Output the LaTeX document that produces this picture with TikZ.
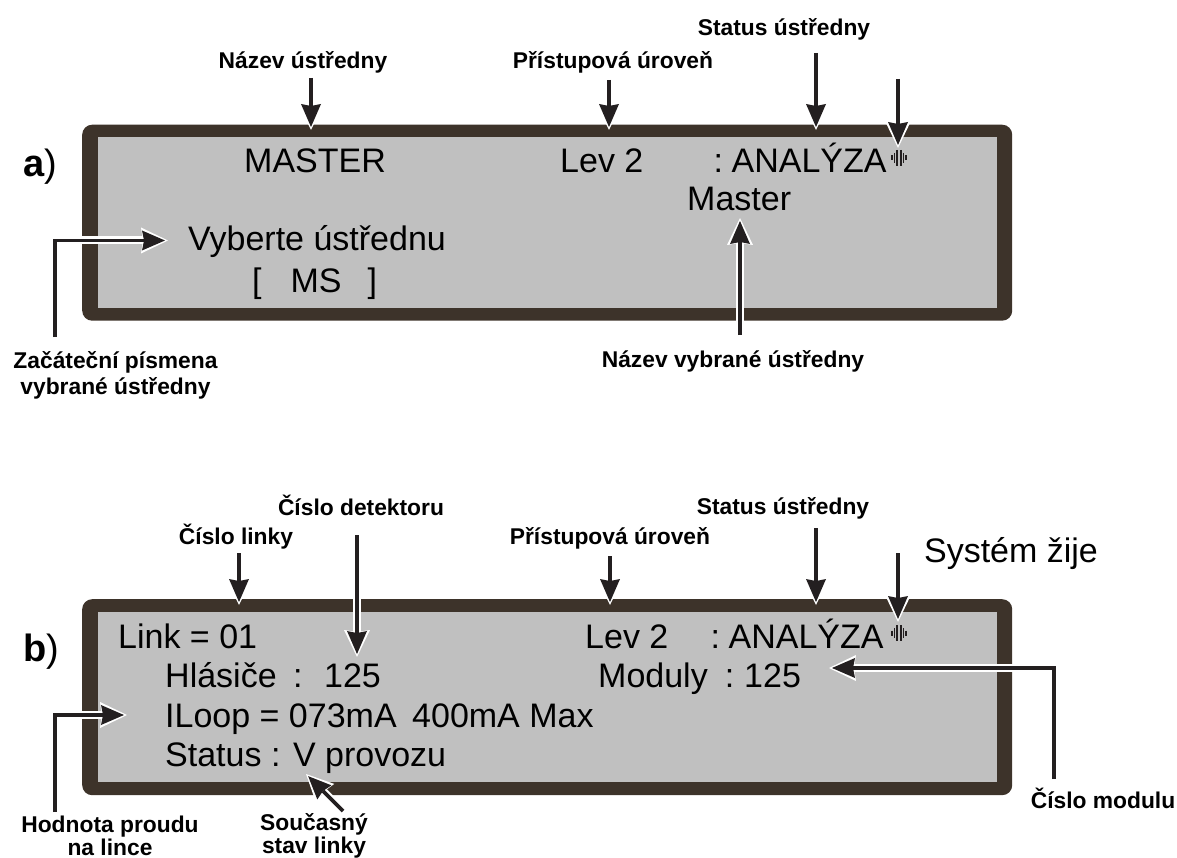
\documentclass[tikz,border=0pt]{standalone}
\usepackage{fontspec}
\setmainfont{Liberation Sans}
\usetikzlibrary{arrows.meta}
\definecolor{framecol}{HTML}{3D332A}
\definecolor{screencol}{HTML}{C0C0C0}
\definecolor{arrowcol}{HTML}{231F20}
\tikzset{
  x=1pt,y=-1pt,
  frame/.style={fill=framecol,draw=none,rounded corners=10pt,anchor=north west,inner sep=0pt,minimum width=930pt},
  screen/.style={fill=screencol,draw=none,anchor=north west,inner sep=0pt,minimum width=899pt},
  lcd/.style={font=\fontsize{34}{34}\selectfont,anchor=base west,inner sep=0pt,text=black},
  tag/.style={font=\fontsize{22.8}{25}\selectfont\bfseries,align=center,inner sep=0pt,text=black},
  letter/.style={font=\fontsize{38}{38}\selectfont,anchor=base west,inner sep=0pt},
  callout/.style={draw=arrowcol,line width=3.6pt,line cap=butt,shorten >=3pt,
    -{Stealth[length=23pt,width=20pt,inset=2pt,line width=0pt,arrowcol]},
    preaction={draw=white,line width=8pt,shorten >=0pt,
      -{Stealth[length=27pt,width=26pt,inset=2pt,line width=0pt,white]}}},
  beat/.style={draw=arrowcol,line cap=butt},
}
\newcommand{\beaticon}[2]{%
  \draw[beat,line width=1.6pt] (#1-7,#2-2.5) -- (#1-7,#2+2.5);
  \draw[beat,line width=1.8pt] (#1-4.5,#2-5) -- (#1-4.5,#2+5);
  \draw[beat,line width=2pt] (#1-1.6,#2-8) -- (#1-1.6,#2+8);
  \draw[beat,line width=2pt] (#1+1.6,#2-8) -- (#1+1.6,#2+8);
  \draw[beat,line width=1.8pt] (#1+4.5,#2-5) -- (#1+4.5,#2+5);
  \draw[beat,line width=1.6pt] (#1+7,#2-2.5) -- (#1+7,#2+2.5);
}
\begin{document}
\begin{tikzpicture}
\useasboundingbox (0,0) rectangle (1177,858);
% panels
\node[frame,minimum height=196pt] (frameA) at (82,124.5) {};
\node[screen,minimum height=171pt] (screenA) at (98,137) {};
\node[frame,minimum height=196pt] (frameB) at (82,599) {};
\node[screen,minimum height=170pt] (screenB) at (98,612) {};
% side letters
\node[letter] (letA) at (23,177) {\textbf{a})};
\node[letter] (letB) at (23,661) {\textbf{b})};
% panel a text
\node[lcd] (tMaster) at (244,173) {MASTER};
\node[lcd] (tLevA) at (560,173) {Lev 2};
\node[lcd] (tAnaA) at (713.5,173) {:\hspace{8.5pt}ANALÝZA};
\node[lcd] (tSel) at (687,211) {Master};
\node[lcd] (tVyb) at (188,251) {Vyberte ústřednu};
\node[lcd] (tMS) at (252,293) {[\hspace{29pt}MS\hspace{26pt}]};
\beaticon{899}{158}
% panel b text
\node[lcd] (tLink) at (118,648) {Link = 01};
\node[lcd] (tLevB) at (585,648) {Lev 2};
\node[lcd] (tAnaB) at (710.5,648) {:\hspace{8.5pt}ANALÝZA};
\node[lcd] (tHl) at (165,687) {Hlásiče\hspace{7pt} :\hspace{9pt} 125};
\node[lcd] (tMod) at (598,687) {Moduly\hspace{17pt}:\hspace{10pt}125};
\node[lcd] (tLoop) at (165,727) {ILoop = 073mA};
\node[lcd] (tMax) at (412,727) {400mA Max};
\node[lcd] (tStat) at (165,766) {Status : V provozu};
\beaticon{899}{633}
% tags a
\node[tag] (nA1) at (303,62) {Název ústředny};
\node[tag] (nA2) at (613,62) {Přístupová úroveň};
\node[tag] (nA3) at (784,29) {Status ústředny};
\node[tag] (nA4) at (115.5,375) {Začáteční písmena\\[1pt]vybrané ústředny};
\node[tag] (nA5) at (733,361) {Název vybrané ústředny};
% tags b
\node[tag] (nB1) at (236,537) {Číslo linky};
\node[tag] (nB2) at (361,505) {Číslo detektoru};
\node[tag] (nB3) at (610,538) {Přístupová úroveň};
\node[tag] (nB4) at (783,508) {Status ústředny};
\node[font=\fontsize{34}{34}\selectfont,inner sep=0pt] (nB5) at (1011,554) {Systém žije};
\node[tag] (nB6) at (110,836) {Hodnota proudu\\[-2pt]na lince};
\node[tag] (nB7) at (314,836) {Současný\\[-2pt]stav linky};
\node[tag] (nB8) at (1103,798) {Číslo modulu};
% connector ends
\coordinate (a1s) at (311,78); \coordinate (a1e) at (311,130);
\coordinate (a2s) at (609,80); \coordinate (a2e) at (609,130);
\coordinate (a3s) at (816,53); \coordinate (a3e) at (816,130);
\coordinate (a4s) at (898,79); \coordinate (a4e) at (898,148);
\coordinate (a5s) at (55,337); \coordinate (a5e) at (168,240.5);
\coordinate (a6s) at (740,335); \coordinate (a6e) at (740,218);
\coordinate (b1s) at (239,553); \coordinate (b1e) at (239,605);
\coordinate (b2s) at (357,535); \coordinate (b2e) at (357,657);
\coordinate (b3s) at (610,556); \coordinate (b3e) at (610,605);
\coordinate (b4s) at (816,528); \coordinate (b4e) at (816,605);
\coordinate (b5s) at (898,553); \coordinate (b5e) at (898,622);
\coordinate (b6s) at (55,812); \coordinate (b6e) at (127,715);
\coordinate (b7s) at (343,811); \coordinate (b7e) at (306,774);
\coordinate (b8s) at (1054,779); \coordinate (b8e) at (829,668);
% connectors
\draw[callout] (a1s) -- (a1e);
\draw[callout] (a2s) -- (a2e);
\draw[callout] (a3s) -- (a3e);
\draw[callout] (a4s) -- (a4e);
\draw[callout] (a5s) |- (a5e);
\draw[callout] (a6s) -- (a6e);
\draw[callout] (b1s) -- (b1e);
\draw[callout] (b2s) -- (b2e);
\draw[callout] (b3s) -- (b3e);
\draw[callout] (b4s) -- (b4e);
\draw[callout] (b5s) -- (b5e);
\draw[callout] (b6s) |- (b6e);
\draw[callout] (b7s) -- (b7e);
\draw[callout] (b8s) |- (b8e);
\end{tikzpicture}
\end{document}
